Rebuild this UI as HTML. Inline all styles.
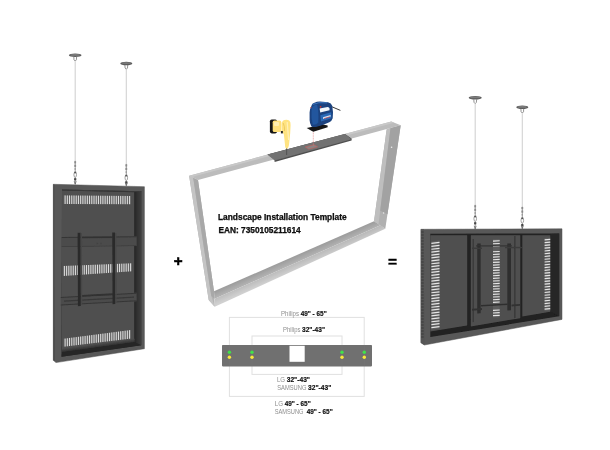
<!DOCTYPE html>
<html lang="en">
<head>
<meta charset="utf-8">
<title>Landscape Installation Template</title>
<style>
html,body{margin:0;padding:0;background:#fff;}
body{width:610px;height:450px;overflow:hidden;font-family:"Liberation Sans",sans-serif;}
svg{display:block;}
</style>
</head>
<body>
<svg width="610" height="450" viewBox="0 0 610 450">
<rect width="610" height="450" fill="#fff"/>
<defs>
<linearGradient id="gInL" x1="0" y1="0" x2="0" y2="1"><stop offset="0" stop-color="#505050"/><stop offset="1" stop-color="#4c4c4c"/></linearGradient>
<linearGradient id="gShB" x1="0" y1="0" x2="0" y2="1"><stop offset="0" stop-color="#505050"/><stop offset="0.8" stop-color="#1e1e1e"/><stop offset="1" stop-color="#2a2a2a"/></linearGradient>
<linearGradient id="gShR" x1="0" y1="0" x2="1" y2="0"><stop offset="0" stop-color="#262626"/><stop offset="1" stop-color="#404040"/></linearGradient>
<filter id="soft" x="-5%" y="-5%" width="110%" height="110%"><feGaussianBlur stdDeviation="0.35"/></filter>
<filter id="tsoft" x="-5%" y="-20%" width="110%" height="140%"><feGaussianBlur stdDeviation="0.3"/></filter>
<filter id="soft2" x="-20%" y="-20%" width="140%" height="140%"><feGaussianBlur stdDeviation="0.5"/></filter>
<linearGradient id="gBt" gradientUnits="userSpaceOnUse" x1="290" y1="255" x2="293.5" y2="263"><stop offset="0" stop-color="#929292"/><stop offset="1" stop-color="#b0b0b0"/></linearGradient>
<linearGradient id="gBf" gradientUnits="userSpaceOnUse" x1="293.5" y1="263" x2="296.5" y2="270"><stop offset="0" stop-color="#b8b8b8"/><stop offset="1" stop-color="#d0d0d0"/></linearGradient>
<pattern id="perf" width="1.4" height="1.4" patternUnits="userSpaceOnUse" patternTransform="rotate(-8)"><rect width="1.4" height="1.4" fill="#b2b2b2"/><circle cx="0.7" cy="0.7" r="0.45" fill="#858585"/></pattern>
<linearGradient id="gSh1" gradientUnits="userSpaceOnUse" x1="98" y1="343.5" x2="98.5" y2="347.2"><stop offset="0" stop-color="#505050"/><stop offset="1" stop-color="#303030"/></linearGradient>
</defs>
<g filter="url(#soft2)">
<line x1="75.2" y1="61.3" x2="75.2" y2="160.7" stroke="#d2d2d2" stroke-width="1.1"/>
<ellipse cx="75.2" cy="55.3" rx="6.3" ry="1.7" fill="#5c5c5c"/>
<ellipse cx="75.2" cy="54.9" rx="4.8" ry="0.9" fill="#7c7c7c"/>
<path d="M73.8,56.8 L74.0,59.8 Q75.2,62.3 76.4,59.8 L76.60000000000001,56.8" fill="none" stroke="#777" stroke-width="0.8"/>
<line x1="75.2" y1="160.7" x2="75.2" y2="184.6" stroke="#9a9a9a" stroke-width="1"/>
<rect x="74.3" y="161.2" width="1.8" height="2.2" fill="#8a8a8a"/>
<rect x="74.3" y="164.7" width="1.8" height="2.2" fill="#8a8a8a"/>
<rect x="74.5" y="168.2" width="1.4" height="1.6" fill="#999"/>
<ellipse cx="75.2" cy="174.7" rx="1.3" ry="2.6" fill="#fff" stroke="#8a8a8a" stroke-width="0.8"/>
<rect x="74.2" y="171.7" width="2" height="1.6" fill="#555"/>
<rect x="74.10000000000001" y="178.2" width="2.2" height="2.2" fill="#444"/>
<path d="M74.2,181.1 L75.2,184.1 L76.2,181.1" fill="none" stroke="#666" stroke-width="0.8"/>
</g>
<g filter="url(#soft2)">
<line x1="126.3" y1="69.5" x2="126.3" y2="163.8" stroke="#d2d2d2" stroke-width="1.1"/>
<ellipse cx="126.3" cy="63.5" rx="6.0" ry="1.7" fill="#5c5c5c"/>
<ellipse cx="126.3" cy="63.1" rx="4.5" ry="0.9" fill="#7c7c7c"/>
<path d="M124.89999999999999,65.0 L125.1,68.0 Q126.3,70.5 127.5,68.0 L127.7,65.0" fill="none" stroke="#777" stroke-width="0.8"/>
<line x1="126.3" y1="163.8" x2="126.3" y2="186.0" stroke="#9a9a9a" stroke-width="1"/>
<rect x="125.39999999999999" y="164.3" width="1.8" height="2.2" fill="#8a8a8a"/>
<rect x="125.39999999999999" y="167.8" width="1.8" height="2.2" fill="#8a8a8a"/>
<rect x="125.6" y="171.3" width="1.4" height="1.6" fill="#999"/>
<ellipse cx="126.3" cy="177.8" rx="1.3" ry="2.6" fill="#fff" stroke="#8a8a8a" stroke-width="0.8"/>
<rect x="125.3" y="174.8" width="2" height="1.6" fill="#555"/>
<rect x="125.2" y="181.3" width="2.2" height="2.2" fill="#444"/>
<path d="M125.3,182.5 L126.3,185.5 L127.3,182.5" fill="none" stroke="#666" stroke-width="0.8"/>
</g>
<g filter="url(#soft2)">
<line x1="475.2" y1="103.8" x2="475.2" y2="204.7" stroke="#d2d2d2" stroke-width="1.1"/>
<ellipse cx="475.2" cy="97.8" rx="6.5" ry="1.7" fill="#5c5c5c"/>
<ellipse cx="475.2" cy="97.39999999999999" rx="5.0" ry="0.9" fill="#7c7c7c"/>
<path d="M473.8,99.3 L474.0,102.3 Q475.2,104.8 476.4,102.3 L476.59999999999997,99.3" fill="none" stroke="#777" stroke-width="0.8"/>
<line x1="475.2" y1="204.7" x2="475.2" y2="229.3" stroke="#9a9a9a" stroke-width="1"/>
<rect x="474.3" y="205.2" width="1.8" height="2.2" fill="#8a8a8a"/>
<rect x="474.3" y="208.7" width="1.8" height="2.2" fill="#8a8a8a"/>
<rect x="474.5" y="212.2" width="1.4" height="1.6" fill="#999"/>
<ellipse cx="475.2" cy="218.7" rx="1.3" ry="2.6" fill="#fff" stroke="#8a8a8a" stroke-width="0.8"/>
<rect x="474.2" y="215.7" width="2" height="1.6" fill="#555"/>
<rect x="474.09999999999997" y="222.2" width="2.2" height="2.2" fill="#444"/>
<path d="M474.2,225.8 L475.2,228.8 L476.2,225.8" fill="none" stroke="#666" stroke-width="0.8"/>
</g>
<g filter="url(#soft2)">
<line x1="522.3" y1="113.3" x2="522.3" y2="206.5" stroke="#d2d2d2" stroke-width="1.1"/>
<ellipse cx="522.3" cy="107.3" rx="6.0" ry="1.7" fill="#5c5c5c"/>
<ellipse cx="522.3" cy="106.89999999999999" rx="4.5" ry="0.9" fill="#7c7c7c"/>
<path d="M520.9,108.8 L521.0999999999999,111.8 Q522.3,114.3 523.5,111.8 L523.6999999999999,108.8" fill="none" stroke="#777" stroke-width="0.8"/>
<line x1="522.3" y1="206.5" x2="522.3" y2="229.0" stroke="#9a9a9a" stroke-width="1"/>
<rect x="521.4" y="207.0" width="1.8" height="2.2" fill="#8a8a8a"/>
<rect x="521.4" y="210.5" width="1.8" height="2.2" fill="#8a8a8a"/>
<rect x="521.5999999999999" y="214.0" width="1.4" height="1.6" fill="#999"/>
<ellipse cx="522.3" cy="220.5" rx="1.3" ry="2.6" fill="#fff" stroke="#8a8a8a" stroke-width="0.8"/>
<rect x="521.3" y="217.5" width="2" height="1.6" fill="#555"/>
<rect x="521.1999999999999" y="224.0" width="2.2" height="2.2" fill="#444"/>
<path d="M521.3,225.5 L522.3,228.5 L523.3,225.5" fill="none" stroke="#666" stroke-width="0.8"/>
</g>
<g filter="url(#soft)">
<polygon points="53.3,184.3 144.4,186.7 144.4,348.7 56.0,362.6 53.3,360.3" fill="#595959" stroke="#505050" stroke-width="0.5"/>
<polygon points="53.3,184.3 54.3,184.8 54.6,361.0 53.3,360.3" fill="#484848" />
<polygon points="62.0,189.4 141.3,191.2 141.3,345.3 61.5,356.7" fill="#2a2a2a" />
<polygon points="62.0,190.6 134.4,192.2 134.4,342.0 62.0,352.0" fill="#505050" />
<polygon points="134.4,192.2 141.3,191.0 141.3,345.3 134.4,342.0" fill="url(#gShR)" />
<polygon points="62.0,348.5 134.6,338.8 134.4,342.0 62.0,352.0" fill="url(#gSh1)" />
<polygon points="62.0,352.0 134.4,342.0 141.3,345.3 61.5,356.7" fill="#262626" />
<polygon points="62.0,189.4 141.3,191.2 141.3,192.0 62.0,190.4" fill="#3c3c3c" />
<polygon points="63.7,195.4 131.0,196.0 131.0,204.2 63.7,204.0" fill="#606060" />
<line x1="65.11" y1="195.41" x2="65.11" y2="204.00" stroke="#e2e2e2" stroke-width="1.00"/>
<line x1="67.33" y1="195.43" x2="67.33" y2="204.01" stroke="#e2e2e2" stroke-width="1.00"/>
<line x1="69.56" y1="195.45" x2="69.56" y2="204.02" stroke="#e2e2e2" stroke-width="1.00"/>
<line x1="71.78" y1="195.47" x2="71.78" y2="204.02" stroke="#e2e2e2" stroke-width="1.00"/>
<line x1="74.00" y1="195.49" x2="74.00" y2="204.03" stroke="#e2e2e2" stroke-width="1.00"/>
<line x1="76.23" y1="195.51" x2="76.23" y2="204.04" stroke="#e2e2e2" stroke-width="1.00"/>
<line x1="78.45" y1="195.53" x2="78.45" y2="204.04" stroke="#e2e2e2" stroke-width="1.00"/>
<line x1="80.67" y1="195.55" x2="80.67" y2="204.05" stroke="#e2e2e2" stroke-width="1.00"/>
<line x1="82.90" y1="195.57" x2="82.90" y2="204.06" stroke="#e2e2e2" stroke-width="1.00"/>
<line x1="85.12" y1="195.59" x2="85.12" y2="204.06" stroke="#e2e2e2" stroke-width="1.00"/>
<line x1="87.34" y1="195.61" x2="87.34" y2="204.07" stroke="#e2e2e2" stroke-width="1.00"/>
<line x1="89.57" y1="195.63" x2="89.57" y2="204.08" stroke="#e2e2e2" stroke-width="1.00"/>
<line x1="91.79" y1="195.65" x2="91.79" y2="204.08" stroke="#e2e2e2" stroke-width="1.00"/>
<line x1="94.02" y1="195.67" x2="94.02" y2="204.09" stroke="#e2e2e2" stroke-width="1.00"/>
<line x1="96.24" y1="195.69" x2="96.24" y2="204.10" stroke="#e2e2e2" stroke-width="1.00"/>
<line x1="98.46" y1="195.71" x2="98.46" y2="204.10" stroke="#e2e2e2" stroke-width="1.00"/>
<line x1="100.69" y1="195.73" x2="100.69" y2="204.11" stroke="#e2e2e2" stroke-width="1.00"/>
<line x1="102.91" y1="195.75" x2="102.91" y2="204.12" stroke="#e2e2e2" stroke-width="1.00"/>
<line x1="105.13" y1="195.77" x2="105.13" y2="204.12" stroke="#e2e2e2" stroke-width="1.00"/>
<line x1="107.35" y1="195.79" x2="107.35" y2="204.13" stroke="#e2e2e2" stroke-width="1.00"/>
<line x1="109.58" y1="195.81" x2="109.58" y2="204.14" stroke="#e2e2e2" stroke-width="1.00"/>
<line x1="111.80" y1="195.83" x2="111.80" y2="204.14" stroke="#e2e2e2" stroke-width="1.00"/>
<line x1="114.02" y1="195.85" x2="114.02" y2="204.15" stroke="#e2e2e2" stroke-width="1.00"/>
<line x1="116.25" y1="195.87" x2="116.25" y2="204.16" stroke="#e2e2e2" stroke-width="1.00"/>
<line x1="118.47" y1="195.89" x2="118.47" y2="204.16" stroke="#e2e2e2" stroke-width="1.00"/>
<line x1="120.69" y1="195.91" x2="120.69" y2="204.17" stroke="#e2e2e2" stroke-width="1.00"/>
<line x1="122.92" y1="195.93" x2="122.92" y2="204.18" stroke="#e2e2e2" stroke-width="1.00"/>
<line x1="125.14" y1="195.95" x2="125.14" y2="204.18" stroke="#e2e2e2" stroke-width="1.00"/>
<line x1="127.36" y1="195.97" x2="127.36" y2="204.19" stroke="#e2e2e2" stroke-width="1.00"/>
<line x1="129.59" y1="195.99" x2="129.59" y2="204.20" stroke="#e2e2e2" stroke-width="1.00"/>
<polygon points="63.0,266.0 132.0,263.3 132.0,271.3 63.0,276.0" fill="#606060" />
<line x1="64.40" y1="265.96" x2="64.40" y2="275.92" stroke="#e2e2e2" stroke-width="0.99"/>
<line x1="66.61" y1="265.87" x2="66.61" y2="275.77" stroke="#e2e2e2" stroke-width="0.99"/>
<line x1="68.82" y1="265.78" x2="68.82" y2="275.62" stroke="#e2e2e2" stroke-width="0.99"/>
<line x1="71.02" y1="265.70" x2="71.02" y2="275.47" stroke="#e2e2e2" stroke-width="0.99"/>
<line x1="73.23" y1="265.61" x2="73.23" y2="275.32" stroke="#e2e2e2" stroke-width="0.99"/>
<line x1="75.44" y1="265.52" x2="75.44" y2="275.17" stroke="#e2e2e2" stroke-width="0.99"/>
<line x1="77.64" y1="265.43" x2="77.64" y2="275.01" stroke="#e2e2e2" stroke-width="0.99"/>
<line x1="79.85" y1="265.35" x2="79.85" y2="274.86" stroke="#e2e2e2" stroke-width="0.99"/>
<line x1="82.05" y1="265.26" x2="82.05" y2="274.71" stroke="#e2e2e2" stroke-width="0.99"/>
<line x1="84.26" y1="265.17" x2="84.26" y2="274.56" stroke="#e2e2e2" stroke-width="0.99"/>
<line x1="86.47" y1="265.09" x2="86.47" y2="274.41" stroke="#e2e2e2" stroke-width="0.99"/>
<line x1="88.67" y1="265.00" x2="88.67" y2="274.26" stroke="#e2e2e2" stroke-width="0.99"/>
<line x1="90.88" y1="264.91" x2="90.88" y2="274.10" stroke="#e2e2e2" stroke-width="0.99"/>
<line x1="93.09" y1="264.82" x2="93.09" y2="273.95" stroke="#e2e2e2" stroke-width="0.99"/>
<line x1="95.29" y1="264.74" x2="95.29" y2="273.80" stroke="#e2e2e2" stroke-width="0.99"/>
<line x1="97.50" y1="264.65" x2="97.50" y2="273.65" stroke="#e2e2e2" stroke-width="0.99"/>
<line x1="99.71" y1="264.56" x2="99.71" y2="273.50" stroke="#e2e2e2" stroke-width="0.99"/>
<line x1="101.91" y1="264.48" x2="101.91" y2="273.35" stroke="#e2e2e2" stroke-width="0.99"/>
<line x1="104.12" y1="264.39" x2="104.12" y2="273.20" stroke="#e2e2e2" stroke-width="0.99"/>
<line x1="106.33" y1="264.30" x2="106.33" y2="273.04" stroke="#e2e2e2" stroke-width="0.99"/>
<line x1="108.53" y1="264.21" x2="108.53" y2="272.89" stroke="#e2e2e2" stroke-width="0.99"/>
<line x1="110.74" y1="264.13" x2="110.74" y2="272.74" stroke="#e2e2e2" stroke-width="0.99"/>
<line x1="112.95" y1="264.04" x2="112.95" y2="272.59" stroke="#e2e2e2" stroke-width="0.99"/>
<line x1="115.15" y1="263.95" x2="115.15" y2="272.44" stroke="#e2e2e2" stroke-width="0.99"/>
<line x1="117.36" y1="263.87" x2="117.36" y2="272.29" stroke="#e2e2e2" stroke-width="0.99"/>
<line x1="119.56" y1="263.78" x2="119.56" y2="272.13" stroke="#e2e2e2" stroke-width="0.99"/>
<line x1="121.77" y1="263.69" x2="121.77" y2="271.98" stroke="#e2e2e2" stroke-width="0.99"/>
<line x1="123.98" y1="263.60" x2="123.98" y2="271.83" stroke="#e2e2e2" stroke-width="0.99"/>
<line x1="126.18" y1="263.52" x2="126.18" y2="271.68" stroke="#e2e2e2" stroke-width="0.99"/>
<line x1="128.39" y1="263.43" x2="128.39" y2="271.53" stroke="#e2e2e2" stroke-width="0.99"/>
<line x1="130.60" y1="263.34" x2="130.60" y2="271.38" stroke="#e2e2e2" stroke-width="0.99"/>
<polygon points="63.7,338.7 131.0,330.0 131.0,338.6 63.7,346.7" fill="#606060" />
<line x1="65.11" y1="338.56" x2="65.11" y2="346.56" stroke="#e2e2e2" stroke-width="1.00"/>
<line x1="67.33" y1="338.26" x2="67.33" y2="346.30" stroke="#e2e2e2" stroke-width="1.00"/>
<line x1="69.56" y1="337.97" x2="69.56" y2="346.02" stroke="#e2e2e2" stroke-width="1.00"/>
<line x1="71.78" y1="337.69" x2="71.78" y2="345.75" stroke="#e2e2e2" stroke-width="1.00"/>
<line x1="74.00" y1="337.39" x2="74.00" y2="345.49" stroke="#e2e2e2" stroke-width="1.00"/>
<line x1="76.23" y1="337.11" x2="76.23" y2="345.21" stroke="#e2e2e2" stroke-width="1.00"/>
<line x1="78.45" y1="336.81" x2="78.45" y2="344.94" stroke="#e2e2e2" stroke-width="1.00"/>
<line x1="80.67" y1="336.52" x2="80.67" y2="344.68" stroke="#e2e2e2" stroke-width="1.00"/>
<line x1="82.90" y1="336.24" x2="82.90" y2="344.40" stroke="#e2e2e2" stroke-width="1.00"/>
<line x1="85.12" y1="335.94" x2="85.12" y2="344.13" stroke="#e2e2e2" stroke-width="1.00"/>
<line x1="87.34" y1="335.65" x2="87.34" y2="343.87" stroke="#e2e2e2" stroke-width="1.00"/>
<line x1="89.57" y1="335.37" x2="89.57" y2="343.60" stroke="#e2e2e2" stroke-width="1.00"/>
<line x1="91.79" y1="335.07" x2="91.79" y2="343.32" stroke="#e2e2e2" stroke-width="1.00"/>
<line x1="94.02" y1="334.78" x2="94.02" y2="343.06" stroke="#e2e2e2" stroke-width="1.00"/>
<line x1="96.24" y1="334.50" x2="96.24" y2="342.79" stroke="#e2e2e2" stroke-width="1.00"/>
<line x1="98.46" y1="334.20" x2="98.46" y2="342.51" stroke="#e2e2e2" stroke-width="1.00"/>
<line x1="100.69" y1="333.92" x2="100.69" y2="342.25" stroke="#e2e2e2" stroke-width="1.00"/>
<line x1="102.91" y1="333.62" x2="102.91" y2="341.98" stroke="#e2e2e2" stroke-width="1.00"/>
<line x1="105.13" y1="333.33" x2="105.13" y2="341.70" stroke="#e2e2e2" stroke-width="1.00"/>
<line x1="107.35" y1="333.05" x2="107.35" y2="341.44" stroke="#e2e2e2" stroke-width="1.00"/>
<line x1="109.58" y1="332.75" x2="109.58" y2="341.17" stroke="#e2e2e2" stroke-width="1.00"/>
<line x1="111.80" y1="332.46" x2="111.80" y2="340.90" stroke="#e2e2e2" stroke-width="1.00"/>
<line x1="114.02" y1="332.18" x2="114.02" y2="340.62" stroke="#e2e2e2" stroke-width="1.00"/>
<line x1="116.25" y1="331.88" x2="116.25" y2="340.36" stroke="#e2e2e2" stroke-width="1.00"/>
<line x1="118.47" y1="331.59" x2="118.47" y2="340.09" stroke="#e2e2e2" stroke-width="1.00"/>
<line x1="120.69" y1="331.31" x2="120.69" y2="339.81" stroke="#e2e2e2" stroke-width="1.00"/>
<line x1="122.92" y1="331.01" x2="122.92" y2="339.55" stroke="#e2e2e2" stroke-width="1.00"/>
<line x1="125.14" y1="330.73" x2="125.14" y2="339.28" stroke="#e2e2e2" stroke-width="1.00"/>
<line x1="127.36" y1="330.44" x2="127.36" y2="339.00" stroke="#e2e2e2" stroke-width="1.00"/>
<line x1="129.59" y1="330.14" x2="129.59" y2="338.74" stroke="#e2e2e2" stroke-width="1.00"/>
<polygon points="61.7,237.0 136.7,236.3 136.7,246.0 61.7,247.0" fill="#4b4b4b" />
<polygon points="61.7,237.0 136.7,236.3 136.7,237.3 61.7,238.0" fill="#363636" />
<polygon points="61.7,246.2 136.7,245.2 136.7,246.0 61.7,247.0" fill="#3e3e3e" />
<polygon points="60.8,297.0 136.7,292.8 136.7,301.2 60.8,305.6" fill="#4b4b4b" />
<polygon points="60.8,297.0 136.7,292.8 136.7,293.8 60.8,298.0" fill="#363636" />
<polygon points="60.8,304.6 136.7,300.2 136.7,301.2 60.8,305.6" fill="#363636" />
<polygon points="64.0,300.6 134.0,296.6 134.0,297.8 64.0,301.8" fill="#383838" />
<polygon points="82.0,236.8 113.0,236.5 113.0,238.0 82.0,238.3" fill="#333" />
<polygon points="82.0,295.0 113.0,293.3 113.0,294.9 82.0,296.6" fill="#303030" />
<polygon points="77.6,232.8 80.6,232.8 80.9,306.0 77.9,306.3" fill="#2c2c2c" />
<polygon points="112.2,232.5 115.0,232.5 115.3,304.0 112.5,304.3" fill="#2c2c2c" />
<polygon points="80.6,233.0 82.0,233.0 82.3,305.0 80.9,305.0" fill="#474747" />
<polygon points="115.0,233.0 116.4,233.0 116.7,303.0 115.3,303.0" fill="#474747" />
<circle cx="101" cy="243.4" r="0.8" fill="#444"/><circle cx="97.3" cy="243.4" r="0.8" fill="#444"/>
</g>
<g filter="url(#soft)">
<polygon points="214.0,291.3 374.0,221.3 380.5,225.3 214.6,298.8" fill="url(#gBt)" />
<polygon points="214.6,298.8 380.5,225.3 385.3,228.7 214.7,306.7" fill="url(#gBf)" />
<polygon points="189.1,175.7 198.0,180.0 214.0,291.3 214.7,306.7 208.7,300.0" fill="#b4b4b4" />
<polygon points="189.1,175.7 193.2,177.8 211.3,296.0 214.7,306.7 208.7,300.0" fill="#c4c4c4" />
<polygon points="193.2,177.8 198.0,180.0 214.0,291.3 214.6,298.8 211.3,296.0" fill="#a8a8a8" />
<polygon points="386.7,129.2 400.7,125.3 385.3,228.7 374.0,221.3" fill="#b0b0b0" />
<polygon points="386.7,129.2 390.5,128.1 378.5,224.3 374.0,221.3" fill="#bebebe" />
<polygon points="390.5,128.1 400.7,125.3 387.5,214.2 380.2,210.8" fill="url(#perf)"/>
<circle cx="391.6" cy="147.2" r="0.8" fill="#eee"/><circle cx="383.6" cy="213" r="0.7" fill="#e8e8e8"/>
<polygon points="189.1,175.7 391.3,121.6 400.7,125.3 198.0,180.0" fill="#bcbcbc" />
<polygon points="189.1,175.7 391.3,121.6 394.1,122.7 191.8,177.0" fill="#c8c8c8" />
<polygon points="267.5,154.6 345.0,133.9 351.6,138.4 351.6,140.6 274.6,162.0 274.6,159.4" fill="#505050" />
<polygon points="267.5,154.6 345.0,133.9 351.6,139.2 274.6,160.4" fill="#727272" />
<polygon points="305.3,147.0 314.0,144.7 317.6,146.8 308.8,149.2" fill="#8a8484" stroke="#c8605a" stroke-width="0.6"/>
</g>
<g filter="url(#soft)">
<line x1="286.6" y1="147" x2="286.6" y2="155" stroke="#555" stroke-width="1.1"/>
<rect x="269.9" y="119.4" width="7.2" height="14" rx="1.8" fill="#141414"/>
<rect x="272.7" y="120.6" width="8.6" height="11.4" rx="1.6" fill="#ffe07a"/>
<rect x="274" y="122" width="5" height="4" rx="1" fill="#ffeeb0"/>
<path d="M281.6,124.5 Q281.8,120.6 284.5,119.9 Q287.2,119.2 289.2,120.4 Q290.8,121.6 290.6,125 L290.2,133 L289.2,143 Q288.8,147.6 287.4,148.6 Q285.8,149 285.2,147 L284.4,139 L283.8,134 L281.8,132 Z" fill="#ffe381"/>
<path d="M283.2,123 Q284.8,126.5 284.6,131" stroke="#e6c35a" stroke-width="0.8" fill="none"/>
<path d="M287.2,122 L288.6,140" stroke="#fff0b8" stroke-width="1.2" fill="none"/>
<rect x="280.9" y="131.0" width="2.0" height="2.4" fill="#2a2a2a"/>
</g>
<g filter="url(#soft)">
<line x1="313.3" y1="131.5" x2="313.3" y2="146" stroke="#e27d7d" stroke-width="0.6" stroke-dasharray="1 0.6"/>
<path d="M331.5,106.6 L340.4,110.4" stroke="#222" stroke-width="0.9" fill="none"/>
<polygon points="306.7,128.0 323.0,124.5 327.6,125.6 327.6,127.2 313.3,131.8 311.0,130.5" fill="#141414" />
<path d="M311.3,106.3 Q311.8,103.6 313.8,103 Q317,101.6 320,101.6 L328,102.2 Q331.4,103 332.2,105.8 L333,112.3 L332.7,118.3 Q331.8,121.2 329.3,122.3 L322.7,125 L316,127 Q312.6,127.4 311.3,126.2 Q309.8,123.5 309.6,120.3 L309.6,112.3 Q310,108.5 311.3,106.3 Z" fill="#1a427f"/>
<path d="M311.6,108 Q313.5,104.5 317,104.4 Q319,110 318.3,122.5 Q316,125.5 312.6,124.6 Q310.8,117 311.6,108 Z" fill="#20569e"/>
<path d="M319.6,108.6 L327.6,107.0 Q329.4,107.0 329.6,108.8 L329.5,110.2 L320.2,112.6 Z" fill="#f4f7fb"/>
<path d="M320.4,115.2 L331.2,112.2 L331.4,118.2 L321,121.6 Z" fill="#2c69b6"/>
<path d="M323,117.2 L330.6,115.0 L330.7,116.6 L323.1,118.9 Z" fill="#d6e2f2"/>
<path d="M312.5,104.5 Q318,101.8 327,102.8" stroke="#4b86d0" stroke-width="0.8" fill="none"/>
<circle cx="320.6" cy="106.8" r="0.9" fill="#d8302a"/><circle cx="311.0" cy="107.6" r="0.7" fill="#c44"/>
<path d="M324,118.6 L330,116.8" stroke="#c33" stroke-width="0.6" fill="none"/>
</g>
<g font-family="'Liberation Sans', sans-serif" font-weight="bold" font-size="8.4" fill="#0a0a0a" stroke="#0a0a0a" stroke-width="0.25" filter="url(#tsoft)">
<text x="218.0" y="220.3" textLength="128.6" lengthAdjust="spacingAndGlyphs">Landscape Installation Template</text>
<text x="218.4" y="232.9" textLength="82.3" lengthAdjust="spacingAndGlyphs">EAN: 7350105211614</text>
</g>
<g font-family="'Liberation Sans', sans-serif" font-weight="bold" fill="#050505" filter="url(#tsoft)" text-anchor="middle">
<text x="178.1" y="265.6" font-size="15.2" stroke="#050505" stroke-width="0.55">+</text>
<text x="392.6" y="266.7" font-size="15.5" stroke="#050505" stroke-width="0.35">=</text>
</g>
<g>
<rect x="229.4" y="317.4" width="134.8" height="79" fill="none" stroke="#e0e0e0" stroke-width="1"/>
<rect x="252.0" y="336.0" width="90" height="38.4" fill="none" stroke="#e0e0e0" stroke-width="1"/>
<rect x="222" y="345" width="150" height="21.4" rx="0.8" fill="#707070"/>
<rect x="289.5" y="345.8" width="15.2" height="16" fill="#fff"/>
<line x1="229.4" y1="345" x2="229.4" y2="366" stroke="#737373" stroke-width="0.8"/>
<circle cx="229.4" cy="352.3" r="1.7" fill="#3fe24a"/>
<circle cx="229.4" cy="357.3" r="1.7" fill="#f8ea3a"/>
<line x1="252.0" y1="345" x2="252.0" y2="366" stroke="#737373" stroke-width="0.8"/>
<circle cx="252.0" cy="352.3" r="1.7" fill="#3fe24a"/>
<circle cx="252.0" cy="357.3" r="1.7" fill="#f8ea3a"/>
<line x1="342.0" y1="345" x2="342.0" y2="366" stroke="#737373" stroke-width="0.8"/>
<circle cx="342.0" cy="352.3" r="1.7" fill="#3fe24a"/>
<circle cx="342.0" cy="357.3" r="1.7" fill="#f8ea3a"/>
<line x1="364.3" y1="345" x2="364.3" y2="366" stroke="#737373" stroke-width="0.8"/>
<circle cx="364.3" cy="352.3" r="1.7" fill="#3fe24a"/>
<circle cx="364.3" cy="357.3" r="1.7" fill="#f8ea3a"/>
</g>
<g font-family="'Liberation Sans', sans-serif" font-size="7.7" filter="url(#tsoft)">
<text y="316.0"><tspan x="281.0" fill="#8e8e8e" textLength="18.1" lengthAdjust="spacingAndGlyphs">Philips</tspan><tspan fill="#8e8e8e" font-size="2"> </tspan><tspan x="300.7" fill="#111" stroke="#111" stroke-width="0.2" font-weight="bold" font-size="8.1" textLength="26.0" lengthAdjust="spacingAndGlyphs">49&quot; - 65&quot;</tspan></text>
<text y="331.7"><tspan x="283.0" fill="#8e8e8e" textLength="17.4" lengthAdjust="spacingAndGlyphs">Philips</tspan><tspan fill="#8e8e8e" font-size="2"> </tspan><tspan x="302.0" fill="#111" stroke="#111" stroke-width="0.2" font-weight="bold" font-size="8.1" textLength="23.0" lengthAdjust="spacingAndGlyphs">32&quot;-43&quot;</tspan></text>
<text y="381.8"><tspan x="277.0" fill="#8e8e8e" textLength="8.1" lengthAdjust="spacingAndGlyphs">LG</tspan><tspan fill="#8e8e8e" font-size="2"> </tspan><tspan x="286.7" fill="#111" stroke="#111" stroke-width="0.2" font-weight="bold" font-size="8.1" textLength="23.3" lengthAdjust="spacingAndGlyphs">32&quot;-43&quot;</tspan></text>
<text y="389.8"><tspan x="277.2" fill="#8e8e8e" textLength="29.2" lengthAdjust="spacingAndGlyphs">SAMSUNG</tspan><tspan fill="#8e8e8e" font-size="2"> </tspan><tspan x="308.0" fill="#111" stroke="#111" stroke-width="0.2" font-weight="bold" font-size="8.1" textLength="23.3" lengthAdjust="spacingAndGlyphs">32&quot;-43&quot;</tspan></text>
<text y="406.4"><tspan x="274.7" fill="#8e8e8e" textLength="8.4" lengthAdjust="spacingAndGlyphs">LG</tspan><tspan fill="#8e8e8e" font-size="2"> </tspan><tspan x="284.7" fill="#111" stroke="#111" stroke-width="0.2" font-weight="bold" font-size="8.1" textLength="26.0" lengthAdjust="spacingAndGlyphs">49&quot; - 65&quot;</tspan></text>
<text y="414.4"><tspan x="274.7" fill="#8e8e8e" textLength="28.8" lengthAdjust="spacingAndGlyphs">SAMSUNG</tspan><tspan fill="#8e8e8e" font-size="2"> </tspan><tspan x="306.7" fill="#111" stroke="#111" stroke-width="0.2" font-weight="bold" font-size="8.1" textLength="26.0" lengthAdjust="spacingAndGlyphs">49&quot; - 65&quot;</tspan></text>
</g>
<g filter="url(#soft)">
<polygon points="420.9,229.3 562.0,228.8 562.0,319.4 424.4,345.0 420.9,342.8" fill="#595959" stroke="#505050" stroke-width="0.5"/>
<polygon points="420.9,229.3 424.0,229.3 424.4,345.0 420.9,342.8" fill="#555" />
<line x1="421.2" y1="232.0" x2="423.6" y2="232.0" stroke="#3c3c3c" stroke-width="1.2"/>
<line x1="421.2" y1="235.0" x2="423.6" y2="235.0" stroke="#3c3c3c" stroke-width="1.2"/>
<line x1="421.2" y1="238.0" x2="423.6" y2="238.0" stroke="#3c3c3c" stroke-width="1.2"/>
<line x1="421.2" y1="241.0" x2="423.6" y2="241.0" stroke="#3c3c3c" stroke-width="1.2"/>
<line x1="421.2" y1="244.0" x2="423.6" y2="244.0" stroke="#3c3c3c" stroke-width="1.2"/>
<line x1="421.2" y1="247.0" x2="423.6" y2="247.0" stroke="#3c3c3c" stroke-width="1.2"/>
<line x1="421.2" y1="250.0" x2="423.6" y2="250.0" stroke="#3c3c3c" stroke-width="1.2"/>
<line x1="421.2" y1="253.0" x2="423.6" y2="253.0" stroke="#3c3c3c" stroke-width="1.2"/>
<line x1="421.2" y1="256.0" x2="423.6" y2="256.0" stroke="#3c3c3c" stroke-width="1.2"/>
<line x1="421.2" y1="259.0" x2="423.6" y2="259.0" stroke="#3c3c3c" stroke-width="1.2"/>
<line x1="421.2" y1="262.0" x2="423.6" y2="262.0" stroke="#3c3c3c" stroke-width="1.2"/>
<line x1="421.2" y1="265.0" x2="423.6" y2="265.0" stroke="#3c3c3c" stroke-width="1.2"/>
<line x1="421.2" y1="268.0" x2="423.6" y2="268.0" stroke="#3c3c3c" stroke-width="1.2"/>
<line x1="421.2" y1="271.0" x2="423.6" y2="271.0" stroke="#3c3c3c" stroke-width="1.2"/>
<line x1="421.2" y1="274.0" x2="423.6" y2="274.0" stroke="#3c3c3c" stroke-width="1.2"/>
<line x1="421.2" y1="277.0" x2="423.6" y2="277.0" stroke="#3c3c3c" stroke-width="1.2"/>
<line x1="421.2" y1="280.0" x2="423.6" y2="280.0" stroke="#3c3c3c" stroke-width="1.2"/>
<line x1="421.2" y1="283.0" x2="423.6" y2="283.0" stroke="#3c3c3c" stroke-width="1.2"/>
<line x1="421.2" y1="286.0" x2="423.6" y2="286.0" stroke="#3c3c3c" stroke-width="1.2"/>
<line x1="421.2" y1="289.0" x2="423.6" y2="289.0" stroke="#3c3c3c" stroke-width="1.2"/>
<line x1="421.2" y1="292.0" x2="423.6" y2="292.0" stroke="#3c3c3c" stroke-width="1.2"/>
<line x1="421.2" y1="295.0" x2="423.6" y2="295.0" stroke="#3c3c3c" stroke-width="1.2"/>
<line x1="421.2" y1="298.0" x2="423.6" y2="298.0" stroke="#3c3c3c" stroke-width="1.2"/>
<line x1="421.2" y1="301.0" x2="423.6" y2="301.0" stroke="#3c3c3c" stroke-width="1.2"/>
<line x1="421.2" y1="304.0" x2="423.6" y2="304.0" stroke="#3c3c3c" stroke-width="1.2"/>
<line x1="421.2" y1="307.0" x2="423.6" y2="307.0" stroke="#3c3c3c" stroke-width="1.2"/>
<line x1="421.2" y1="310.0" x2="423.6" y2="310.0" stroke="#3c3c3c" stroke-width="1.2"/>
<line x1="421.2" y1="313.0" x2="423.6" y2="313.0" stroke="#3c3c3c" stroke-width="1.2"/>
<line x1="421.2" y1="316.0" x2="423.6" y2="316.0" stroke="#3c3c3c" stroke-width="1.2"/>
<line x1="421.2" y1="319.0" x2="423.6" y2="319.0" stroke="#3c3c3c" stroke-width="1.2"/>
<line x1="421.2" y1="322.0" x2="423.6" y2="322.0" stroke="#3c3c3c" stroke-width="1.2"/>
<line x1="421.2" y1="325.0" x2="423.6" y2="325.0" stroke="#3c3c3c" stroke-width="1.2"/>
<line x1="421.2" y1="328.0" x2="423.6" y2="328.0" stroke="#3c3c3c" stroke-width="1.2"/>
<line x1="421.2" y1="331.0" x2="423.6" y2="331.0" stroke="#3c3c3c" stroke-width="1.2"/>
<line x1="421.2" y1="334.0" x2="423.6" y2="334.0" stroke="#3c3c3c" stroke-width="1.2"/>
<line x1="421.2" y1="337.0" x2="423.6" y2="337.0" stroke="#3c3c3c" stroke-width="1.2"/>
<polygon points="430.3,233.8 559.2,233.4 559.2,316.3 430.3,337.0" fill="#202020" />
<polygon points="430.3,235.2 467.2,235.2 467.2,325.5 430.3,331.5" fill="#505050" />
<polygon points="470.8,235.2 520.3,235.2 520.3,318.2 470.8,326.4" fill="#505050" />
<polygon points="522.3,235.2 550.5,235.2 550.5,311.8 522.3,316.4" fill="#505050" />
<polygon points="550.5,234.0 559.2,233.4 559.2,316.3 550.5,311.8" fill="#262626" />
<polygon points="431.4,241.5 439.5,240.5 439.5,328.5 431.4,329.5" fill="#5c5c5c" />
<line x1="431.40" y1="243.45" x2="439.50" y2="242.48" stroke="#e6e6e6" stroke-width="1.22"/>
<line x1="431.40" y1="246.35" x2="439.50" y2="245.38" stroke="#e6e6e6" stroke-width="1.22"/>
<line x1="431.40" y1="249.25" x2="439.50" y2="248.28" stroke="#e6e6e6" stroke-width="1.22"/>
<line x1="431.40" y1="252.15" x2="439.50" y2="251.18" stroke="#e6e6e6" stroke-width="1.22"/>
<line x1="431.40" y1="255.05" x2="439.50" y2="254.08" stroke="#e6e6e6" stroke-width="1.22"/>
<line x1="431.40" y1="257.95" x2="439.50" y2="256.98" stroke="#e6e6e6" stroke-width="1.22"/>
<line x1="431.40" y1="260.85" x2="439.50" y2="259.88" stroke="#e6e6e6" stroke-width="1.22"/>
<line x1="431.40" y1="263.75" x2="439.50" y2="262.78" stroke="#e6e6e6" stroke-width="1.22"/>
<line x1="431.40" y1="266.65" x2="439.50" y2="265.68" stroke="#e6e6e6" stroke-width="1.22"/>
<line x1="431.40" y1="269.55" x2="439.50" y2="268.58" stroke="#e6e6e6" stroke-width="1.22"/>
<line x1="431.40" y1="272.45" x2="439.50" y2="271.48" stroke="#e6e6e6" stroke-width="1.22"/>
<line x1="431.40" y1="275.35" x2="439.50" y2="274.38" stroke="#e6e6e6" stroke-width="1.22"/>
<line x1="431.40" y1="278.25" x2="439.50" y2="277.28" stroke="#e6e6e6" stroke-width="1.22"/>
<line x1="431.40" y1="281.15" x2="439.50" y2="280.18" stroke="#e6e6e6" stroke-width="1.22"/>
<line x1="431.40" y1="284.05" x2="439.50" y2="283.08" stroke="#e6e6e6" stroke-width="1.22"/>
<line x1="431.40" y1="286.95" x2="439.50" y2="285.98" stroke="#e6e6e6" stroke-width="1.22"/>
<line x1="431.40" y1="289.85" x2="439.50" y2="288.88" stroke="#e6e6e6" stroke-width="1.22"/>
<line x1="431.40" y1="292.75" x2="439.50" y2="291.78" stroke="#e6e6e6" stroke-width="1.22"/>
<line x1="431.40" y1="295.65" x2="439.50" y2="294.68" stroke="#e6e6e6" stroke-width="1.22"/>
<line x1="431.40" y1="298.55" x2="439.50" y2="297.58" stroke="#e6e6e6" stroke-width="1.22"/>
<line x1="431.40" y1="301.45" x2="439.50" y2="300.48" stroke="#e6e6e6" stroke-width="1.22"/>
<line x1="431.40" y1="304.35" x2="439.50" y2="303.38" stroke="#e6e6e6" stroke-width="1.22"/>
<line x1="431.40" y1="307.25" x2="439.50" y2="306.28" stroke="#e6e6e6" stroke-width="1.22"/>
<line x1="431.40" y1="310.15" x2="439.50" y2="309.18" stroke="#e6e6e6" stroke-width="1.22"/>
<line x1="431.40" y1="313.05" x2="439.50" y2="312.08" stroke="#e6e6e6" stroke-width="1.22"/>
<line x1="431.40" y1="315.95" x2="439.50" y2="314.98" stroke="#e6e6e6" stroke-width="1.22"/>
<line x1="431.40" y1="318.85" x2="439.50" y2="317.88" stroke="#e6e6e6" stroke-width="1.22"/>
<line x1="431.40" y1="321.75" x2="439.50" y2="320.78" stroke="#e6e6e6" stroke-width="1.22"/>
<line x1="431.40" y1="324.65" x2="439.50" y2="323.68" stroke="#e6e6e6" stroke-width="1.22"/>
<line x1="431.40" y1="327.55" x2="439.50" y2="326.58" stroke="#e6e6e6" stroke-width="1.22"/>
<polygon points="493.0,239.3 499.7,239.0 499.7,317.2 493.0,317.5" fill="#5c5c5c" />
<line x1="493.00" y1="241.13" x2="499.70" y2="240.80" stroke="#e6e6e6" stroke-width="1.12"/>
<line x1="493.00" y1="243.79" x2="499.70" y2="243.46" stroke="#e6e6e6" stroke-width="1.12"/>
<line x1="493.00" y1="246.46" x2="499.70" y2="246.12" stroke="#e6e6e6" stroke-width="1.12"/>
<line x1="493.00" y1="251.78" x2="499.70" y2="251.44" stroke="#e6e6e6" stroke-width="1.12"/>
<line x1="493.00" y1="254.44" x2="499.70" y2="254.11" stroke="#e6e6e6" stroke-width="1.12"/>
<line x1="493.00" y1="257.10" x2="499.70" y2="256.77" stroke="#e6e6e6" stroke-width="1.12"/>
<line x1="493.00" y1="259.77" x2="499.70" y2="259.43" stroke="#e6e6e6" stroke-width="1.12"/>
<line x1="493.00" y1="262.43" x2="499.70" y2="262.09" stroke="#e6e6e6" stroke-width="1.12"/>
<line x1="493.00" y1="265.09" x2="499.70" y2="264.75" stroke="#e6e6e6" stroke-width="1.12"/>
<line x1="493.00" y1="267.75" x2="499.70" y2="267.42" stroke="#e6e6e6" stroke-width="1.12"/>
<line x1="493.00" y1="270.41" x2="499.70" y2="270.08" stroke="#e6e6e6" stroke-width="1.12"/>
<line x1="493.00" y1="273.08" x2="499.70" y2="272.74" stroke="#e6e6e6" stroke-width="1.12"/>
<line x1="493.00" y1="275.74" x2="499.70" y2="275.40" stroke="#e6e6e6" stroke-width="1.12"/>
<line x1="493.00" y1="278.40" x2="499.70" y2="278.06" stroke="#e6e6e6" stroke-width="1.12"/>
<line x1="493.00" y1="281.06" x2="499.70" y2="280.73" stroke="#e6e6e6" stroke-width="1.12"/>
<line x1="493.00" y1="283.72" x2="499.70" y2="283.39" stroke="#e6e6e6" stroke-width="1.12"/>
<line x1="493.00" y1="286.39" x2="499.70" y2="286.05" stroke="#e6e6e6" stroke-width="1.12"/>
<line x1="493.00" y1="289.05" x2="499.70" y2="288.71" stroke="#e6e6e6" stroke-width="1.12"/>
<line x1="493.00" y1="291.71" x2="499.70" y2="291.38" stroke="#e6e6e6" stroke-width="1.12"/>
<line x1="493.00" y1="294.37" x2="499.70" y2="294.04" stroke="#e6e6e6" stroke-width="1.12"/>
<line x1="493.00" y1="297.03" x2="499.70" y2="296.70" stroke="#e6e6e6" stroke-width="1.12"/>
<line x1="493.00" y1="299.70" x2="499.70" y2="299.36" stroke="#e6e6e6" stroke-width="1.12"/>
<line x1="493.00" y1="302.36" x2="499.70" y2="302.02" stroke="#e6e6e6" stroke-width="1.12"/>
<line x1="493.00" y1="310.34" x2="499.70" y2="310.01" stroke="#e6e6e6" stroke-width="1.12"/>
<line x1="493.00" y1="313.01" x2="499.70" y2="312.67" stroke="#e6e6e6" stroke-width="1.12"/>
<line x1="493.00" y1="315.67" x2="499.70" y2="315.33" stroke="#e6e6e6" stroke-width="1.12"/>
<polygon points="544.6,238.0 550.2,237.4 550.2,310.4 544.6,311.0" fill="#5c5c5c" />
<line x1="544.60" y1="239.88" x2="550.20" y2="239.32" stroke="#e6e6e6" stroke-width="1.16"/>
<line x1="544.60" y1="242.65" x2="550.20" y2="242.09" stroke="#e6e6e6" stroke-width="1.16"/>
<line x1="544.60" y1="245.42" x2="550.20" y2="244.86" stroke="#e6e6e6" stroke-width="1.16"/>
<line x1="544.60" y1="248.19" x2="550.20" y2="247.63" stroke="#e6e6e6" stroke-width="1.16"/>
<line x1="544.60" y1="250.96" x2="550.20" y2="250.40" stroke="#e6e6e6" stroke-width="1.16"/>
<line x1="544.60" y1="253.73" x2="550.20" y2="253.17" stroke="#e6e6e6" stroke-width="1.16"/>
<line x1="544.60" y1="256.50" x2="550.20" y2="255.94" stroke="#e6e6e6" stroke-width="1.16"/>
<line x1="544.60" y1="259.27" x2="550.20" y2="258.71" stroke="#e6e6e6" stroke-width="1.16"/>
<line x1="544.60" y1="262.04" x2="550.20" y2="261.48" stroke="#e6e6e6" stroke-width="1.16"/>
<line x1="544.60" y1="264.81" x2="550.20" y2="264.25" stroke="#e6e6e6" stroke-width="1.16"/>
<line x1="544.60" y1="267.58" x2="550.20" y2="267.02" stroke="#e6e6e6" stroke-width="1.16"/>
<line x1="544.60" y1="270.35" x2="550.20" y2="269.79" stroke="#e6e6e6" stroke-width="1.16"/>
<line x1="544.60" y1="273.12" x2="550.20" y2="272.56" stroke="#e6e6e6" stroke-width="1.16"/>
<line x1="544.60" y1="275.88" x2="550.20" y2="275.32" stroke="#e6e6e6" stroke-width="1.16"/>
<line x1="544.60" y1="278.65" x2="550.20" y2="278.09" stroke="#e6e6e6" stroke-width="1.16"/>
<line x1="544.60" y1="281.42" x2="550.20" y2="280.86" stroke="#e6e6e6" stroke-width="1.16"/>
<line x1="544.60" y1="284.19" x2="550.20" y2="283.63" stroke="#e6e6e6" stroke-width="1.16"/>
<line x1="544.60" y1="286.96" x2="550.20" y2="286.40" stroke="#e6e6e6" stroke-width="1.16"/>
<line x1="544.60" y1="289.73" x2="550.20" y2="289.17" stroke="#e6e6e6" stroke-width="1.16"/>
<line x1="544.60" y1="292.50" x2="550.20" y2="291.94" stroke="#e6e6e6" stroke-width="1.16"/>
<line x1="544.60" y1="295.27" x2="550.20" y2="294.71" stroke="#e6e6e6" stroke-width="1.16"/>
<line x1="544.60" y1="298.04" x2="550.20" y2="297.48" stroke="#e6e6e6" stroke-width="1.16"/>
<line x1="544.60" y1="300.81" x2="550.20" y2="300.25" stroke="#e6e6e6" stroke-width="1.16"/>
<line x1="544.60" y1="303.58" x2="550.20" y2="303.02" stroke="#e6e6e6" stroke-width="1.16"/>
<line x1="544.60" y1="306.35" x2="550.20" y2="305.79" stroke="#e6e6e6" stroke-width="1.16"/>
<line x1="544.60" y1="309.12" x2="550.20" y2="308.56" stroke="#e6e6e6" stroke-width="1.16"/>
<polygon points="477.2,243.5 480.7,243.5 480.7,313.2 477.2,313.6" fill="#2d2d2d" />
<polygon points="507.3,243.5 511.0,243.5 511.0,310.2 507.3,310.6" fill="#2d2d2d" />
<polygon points="472.5,239.0 474.0,239.0 474.0,322.0 472.5,322.3" fill="#3a3a3a" />
<polygon points="514.0,236.0 515.6,236.0 515.6,318.0 514.0,318.3" fill="#3a3a3a" />
<polygon points="476.0,245.2 512.0,245.2 512.0,246.6 476.0,246.6" fill="#333" />
<polygon points="472.0,247.5 482.0,247.5 482.0,249.0 472.0,249.0" fill="#3a3a3a" />
<polygon points="505.0,246.8 522.0,246.8 522.0,248.3 505.0,248.3" fill="#3a3a3a" />
<polygon points="481.0,305.0 507.4,303.4 507.4,305.0 481.0,306.6" fill="#2f2f2f" />
<polygon points="472.0,308.8 482.0,308.0 482.0,310.0 472.0,310.8" fill="#333" />
<polygon points="511.5,304.6 520.0,304.0 520.0,305.8 511.5,306.4" fill="#333" />
</g>
</svg>
</body>
</html>
